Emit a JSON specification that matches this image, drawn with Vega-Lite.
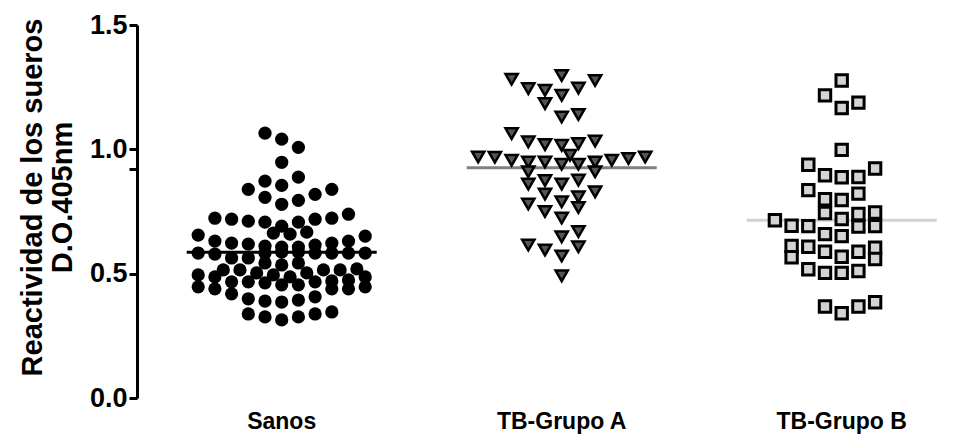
{
  "$schema": "https://vega.github.io/schema/vega-lite/v6.json",
  "width": 836,
  "height": 373,
  "autosize": {"type": "none"},
  "padding": {"left": 137, "top": 25, "right": 0, "bottom": 44},
  "background": "white",
  "config": {"view": {"stroke": null}},
  "datasets": {
    "puntos": [
      {"g": "Sanos", "c": -1, "v": 1.065}, {"g": "Sanos", "c": 0, "v": 1.041}, {"g": "Sanos", "c": 1, "v": 1.008},
      {"g": "Sanos", "c": 0, "v": 0.948}, {"g": "Sanos", "c": 1, "v": 0.888}, {"g": "Sanos", "c": -1, "v": 0.872},
      {"g": "Sanos", "c": 0, "v": 0.855}, {"g": "Sanos", "c": -2, "v": 0.839}, {"g": "Sanos", "c": 3, "v": 0.839},
      {"g": "Sanos", "c": 2, "v": 0.819}, {"g": "Sanos", "c": -1, "v": 0.807}, {"g": "Sanos", "c": 1, "v": 0.795},
      {"g": "Sanos", "c": 0, "v": 0.779},
      {"g": "Sanos", "c": -4, "v": 0.723}, {"g": "Sanos", "c": -3, "v": 0.719}, {"g": "Sanos", "c": -2, "v": 0.711},
      {"g": "Sanos", "c": -1, "v": 0.707}, {"g": "Sanos", "c": 0, "v": 0.691}, {"g": "Sanos", "c": 1, "v": 0.707},
      {"g": "Sanos", "c": 2, "v": 0.719}, {"g": "Sanos", "c": 3, "v": 0.723}, {"g": "Sanos", "c": 4, "v": 0.739},
      {"g": "Sanos", "c": -0.5, "v": 0.663}, {"g": "Sanos", "c": 0.5, "v": 0.659}, {"g": "Sanos", "c": 1.5, "v": 0.667},
      {"g": "Sanos", "c": -5, "v": 0.655}, {"g": "Sanos", "c": 5, "v": 0.651},
      {"g": "Sanos", "c": -4, "v": 0.631}, {"g": "Sanos", "c": -3, "v": 0.623}, {"g": "Sanos", "c": -2, "v": 0.619},
      {"g": "Sanos", "c": -1, "v": 0.611}, {"g": "Sanos", "c": 0, "v": 0.607}, {"g": "Sanos", "c": 1, "v": 0.607},
      {"g": "Sanos", "c": 2, "v": 0.615}, {"g": "Sanos", "c": 3, "v": 0.623}, {"g": "Sanos", "c": 4, "v": 0.631},
      {"g": "Sanos", "c": -5, "v": 0.583}, {"g": "Sanos", "c": -4, "v": 0.579}, {"g": "Sanos", "c": -1, "v": 0.583},
      {"g": "Sanos", "c": 0, "v": 0.587}, {"g": "Sanos", "c": 1, "v": 0.587}, {"g": "Sanos", "c": 2, "v": 0.583},
      {"g": "Sanos", "c": 3, "v": 0.583}, {"g": "Sanos", "c": 4, "v": 0.583}, {"g": "Sanos", "c": 5, "v": 0.583},
      {"g": "Sanos", "c": -3, "v": 0.563}, {"g": "Sanos", "c": -2, "v": 0.563},
      {"g": "Sanos", "c": -1, "v": 0.543}, {"g": "Sanos", "c": 0, "v": 0.535}, {"g": "Sanos", "c": 1, "v": 0.543},
      {"g": "Sanos", "c": -3.5, "v": 0.515}, {"g": "Sanos", "c": -2.5, "v": 0.515}, {"g": "Sanos", "c": 2.5, "v": 0.515},
      {"g": "Sanos", "c": 3.5, "v": 0.515}, {"g": "Sanos", "c": 4.5, "v": 0.519},
      {"g": "Sanos", "c": -1.5, "v": 0.503}, {"g": "Sanos", "c": -0.5, "v": 0.495}, {"g": "Sanos", "c": 0.5, "v": 0.487},
      {"g": "Sanos", "c": 1.5, "v": 0.503},
      {"g": "Sanos", "c": -5, "v": 0.495}, {"g": "Sanos", "c": -4, "v": 0.487}, {"g": "Sanos", "c": 5, "v": 0.487},
      {"g": "Sanos", "c": -3, "v": 0.467}, {"g": "Sanos", "c": -2, "v": 0.467}, {"g": "Sanos", "c": -1, "v": 0.463},
      {"g": "Sanos", "c": 0, "v": 0.455}, {"g": "Sanos", "c": 1, "v": 0.455}, {"g": "Sanos", "c": 2, "v": 0.467},
      {"g": "Sanos", "c": 3, "v": 0.471}, {"g": "Sanos", "c": 4, "v": 0.475},
      {"g": "Sanos", "c": -5, "v": 0.447}, {"g": "Sanos", "c": -4, "v": 0.439}, {"g": "Sanos", "c": 3, "v": 0.439},
      {"g": "Sanos", "c": 4, "v": 0.439}, {"g": "Sanos", "c": 5, "v": 0.447},
      {"g": "Sanos", "c": -3, "v": 0.419},
      {"g": "Sanos", "c": -2, "v": 0.399}, {"g": "Sanos", "c": -1, "v": 0.39}, {"g": "Sanos", "c": 0, "v": 0.386},
      {"g": "Sanos", "c": 1, "v": 0.394}, {"g": "Sanos", "c": 2, "v": 0.407},
      {"g": "Sanos", "c": -2, "v": 0.338}, {"g": "Sanos", "c": -1, "v": 0.326}, {"g": "Sanos", "c": 0, "v": 0.314},
      {"g": "Sanos", "c": 1, "v": 0.326}, {"g": "Sanos", "c": 2, "v": 0.338}, {"g": "Sanos", "c": 3, "v": 0.346},

      {"g": "TB-Grupo A", "c": -3, "v": 1.282}, {"g": "TB-Grupo A", "c": 0, "v": 1.297}, {"g": "TB-Grupo A", "c": 2, "v": 1.277},
      {"g": "TB-Grupo A", "c": -2, "v": 1.244}, {"g": "TB-Grupo A", "c": -1, "v": 1.237}, {"g": "TB-Grupo A", "c": 0, "v": 1.217},
      {"g": "TB-Grupo A", "c": 1, "v": 1.246}, {"g": "TB-Grupo A", "c": -1, "v": 1.184}, {"g": "TB-Grupo A", "c": 0, "v": 1.13},
      {"g": "TB-Grupo A", "c": 1, "v": 1.14}, {"g": "TB-Grupo A", "c": -3, "v": 1.063}, {"g": "TB-Grupo A", "c": -2, "v": 1.03},
      {"g": "TB-Grupo A", "c": -1, "v": 1.019}, {"g": "TB-Grupo A", "c": 0, "v": 1.016}, {"g": "TB-Grupo A", "c": 1, "v": 1.023},
      {"g": "TB-Grupo A", "c": 2, "v": 1.033},
      {"g": "TB-Grupo A", "c": -5, "v": 0.969}, {"g": "TB-Grupo A", "c": -4, "v": 0.968}, {"g": "TB-Grupo A", "c": -3, "v": 0.956},
      {"g": "TB-Grupo A", "c": -2, "v": 0.949}, {"g": "TB-Grupo A", "c": -1, "v": 0.949}, {"g": "TB-Grupo A", "c": 0.5, "v": 0.976},
      {"g": "TB-Grupo A", "c": 0, "v": 0.94}, {"g": "TB-Grupo A", "c": 1, "v": 0.94}, {"g": "TB-Grupo A", "c": 2, "v": 0.949},
      {"g": "TB-Grupo A", "c": 3, "v": 0.956}, {"g": "TB-Grupo A", "c": 4, "v": 0.963}, {"g": "TB-Grupo A", "c": 5, "v": 0.969},
      {"g": "TB-Grupo A", "c": -2, "v": 0.91}, {"g": "TB-Grupo A", "c": 2, "v": 0.91},
      {"g": "TB-Grupo A", "c": -1, "v": 0.874}, {"g": "TB-Grupo A", "c": 1, "v": 0.876},
      {"g": "TB-Grupo A", "c": -2, "v": 0.86}, {"g": "TB-Grupo A", "c": 0, "v": 0.86},
      {"g": "TB-Grupo A", "c": -1, "v": 0.82}, {"g": "TB-Grupo A", "c": 0, "v": 0.789}, {"g": "TB-Grupo A", "c": 1, "v": 0.809},
      {"g": "TB-Grupo A", "c": 2, "v": 0.829}, {"g": "TB-Grupo A", "c": -2, "v": 0.78}, {"g": "TB-Grupo A", "c": -1, "v": 0.75},
      {"g": "TB-Grupo A", "c": 1, "v": 0.766}, {"g": "TB-Grupo A", "c": 0, "v": 0.724},
      {"g": "TB-Grupo A", "c": 0, "v": 0.648}, {"g": "TB-Grupo A", "c": 1, "v": 0.669},
      {"g": "TB-Grupo A", "c": -2, "v": 0.615}, {"g": "TB-Grupo A", "c": -1, "v": 0.595}, {"g": "TB-Grupo A", "c": 0, "v": 0.571},
      {"g": "TB-Grupo A", "c": 1, "v": 0.608}, {"g": "TB-Grupo A", "c": 0, "v": 0.491},

      {"g": "TB-Grupo B", "c": 0, "v": 1.277}, {"g": "TB-Grupo B", "c": -1, "v": 1.217}, {"g": "TB-Grupo B", "c": 1, "v": 1.188},
      {"g": "TB-Grupo B", "c": 0, "v": 1.166}, {"g": "TB-Grupo B", "c": 0, "v": 0.998}, {"g": "TB-Grupo B", "c": -2, "v": 0.938},
      {"g": "TB-Grupo B", "c": 2, "v": 0.923}, {"g": "TB-Grupo B", "c": -1, "v": 0.896}, {"g": "TB-Grupo B", "c": 0, "v": 0.888},
      {"g": "TB-Grupo B", "c": 1, "v": 0.889}, {"g": "TB-Grupo B", "c": -2, "v": 0.836}, {"g": "TB-Grupo B", "c": 1, "v": 0.822},
      {"g": "TB-Grupo B", "c": -1, "v": 0.799}, {"g": "TB-Grupo B", "c": 0, "v": 0.796}, {"g": "TB-Grupo B", "c": -1, "v": 0.744},
      {"g": "TB-Grupo B", "c": 1, "v": 0.74}, {"g": "TB-Grupo B", "c": 2, "v": 0.746}, {"g": "TB-Grupo B", "c": 0, "v": 0.72},
      {"g": "TB-Grupo B", "c": -4, "v": 0.715}, {"g": "TB-Grupo B", "c": -3, "v": 0.693}, {"g": "TB-Grupo B", "c": -2, "v": 0.691},
      {"g": "TB-Grupo B", "c": 1, "v": 0.689}, {"g": "TB-Grupo B", "c": 2, "v": 0.691}, {"g": "TB-Grupo B", "c": -1, "v": 0.659},
      {"g": "TB-Grupo B", "c": 0, "v": 0.651}, {"g": "TB-Grupo B", "c": -3, "v": 0.611}, {"g": "TB-Grupo B", "c": -2, "v": 0.608},
      {"g": "TB-Grupo B", "c": 2, "v": 0.604}, {"g": "TB-Grupo B", "c": -1, "v": 0.588}, {"g": "TB-Grupo B", "c": 1, "v": 0.588},
      {"g": "TB-Grupo B", "c": -3, "v": 0.566}, {"g": "TB-Grupo B", "c": 0, "v": 0.568}, {"g": "TB-Grupo B", "c": 2, "v": 0.559},
      {"g": "TB-Grupo B", "c": -2, "v": 0.518}, {"g": "TB-Grupo B", "c": -1, "v": 0.503}, {"g": "TB-Grupo B", "c": 0, "v": 0.503},
      {"g": "TB-Grupo B", "c": 1, "v": 0.511}, {"g": "TB-Grupo B", "c": -1, "v": 0.368}, {"g": "TB-Grupo B", "c": 0, "v": 0.341},
      {"g": "TB-Grupo B", "c": 1, "v": 0.368}, {"g": "TB-Grupo B", "c": 2, "v": 0.385}
    ],
    "medias": [
      {"g": "Sanos", "v": 0.586},
      {"g": "TB-Grupo A", "v": 0.926},
      {"g": "TB-Grupo B", "v": 0.715}
    ]
  },
  "layer": [
    {
      "data": {"values": [{"corte": 0.92}]},
      "mark": {"type": "rule", "color": "black", "strokeWidth": 1.5, "strokeDash": [3, 2]},
      "encoding": {"y": {"field": "corte", "type": "quantitative"}}
    },
    {
      "data": {"values": [{"cero": 0}]},
      "mark": {"type": "rule", "color": "black", "strokeWidth": 3},
      "encoding": {"y": {"field": "cero", "type": "quantitative"}}
    },
    {
      "data": {"name": "medias"},
      "mark": {"type": "tick", "size": 190, "thickness": 3, "opacity": 1},
      "encoding": {
        "x": {"field": "g", "type": "nominal"},
        "y": {"field": "v", "type": "quantitative"},
        "color": {"field": "g", "type": "nominal", "legend": null,
          "scale": {"domain": ["Sanos", "TB-Grupo A", "TB-Grupo B"], "range": ["#000000", "#808080", "#d3d3d3"]}}
      }
    },
    {
      "data": {"name": "puntos"},
      "transform": [{"filter": "datum.g == 'Sanos'"}],
      "mark": {"type": "point", "shape": "circle", "filled": true, "color": "black", "size": 175, "opacity": 1},
      "encoding": {
        "x": {"field": "g", "type": "nominal"},
        "xOffset": {"field": "c", "type": "quantitative", "scale": {"domain": [-8.383, 8.383], "range": [0, 280]}},
        "y": {"field": "v", "type": "quantitative"}
      }
    },
    {
      "data": {"name": "puntos"},
      "transform": [{"filter": "datum.g == 'TB-Grupo A'"}],
      "mark": {"type": "point", "shape": "triangle-down", "filled": true, "fill": "#555555", "stroke": "#000000", "strokeWidth": 2.5, "size": 150, "opacity": 1, "fillOpacity": 1, "strokeOpacity": 1},
      "encoding": {
        "x": {"field": "g", "type": "nominal"},
        "xOffset": {"field": "c", "type": "quantitative", "scale": {"domain": [-8.383, 8.383], "range": [0, 280]}},
        "y": {"field": "v", "type": "quantitative"}
      }
    },
    {
      "data": {"name": "puntos"},
      "transform": [{"filter": "datum.g == 'TB-Grupo B'"}],
      "mark": {"type": "point", "shape": "square", "filled": true, "fill": "#d4d4d4", "stroke": "#000000", "strokeWidth": 3, "size": 130, "opacity": 1, "fillOpacity": 1, "strokeOpacity": 1},
      "encoding": {
        "x": {"field": "g", "type": "nominal"},
        "xOffset": {"field": "c", "type": "quantitative", "scale": {"domain": [-8.383, 8.383], "range": [0, 280]}},
        "y": {"field": "v", "type": "quantitative"}
      }
    }
  ],
  "resolve": {"scale": {"color": "independent"}},
  "encoding": {
    "x": {"field": "g", "type": "nominal",
      "scale": {"domain": ["Sanos", "TB-Grupo A", "TB-Grupo B"], "range": [4.7, 844.7], "paddingInner": 0, "paddingOuter": 0},
      "axis": {"title": null, "ticks": false, "domain": false, "labelAngle": 0, "labelFont": "Liberation Sans", "labelFontWeight": "bold",
        "labelFontSize": 23, "labelColor": "black", "labelPadding": 12}
    },
    "y": {"field": "v", "type": "quantitative",
      "scale": {"domain": [0, 1.5], "nice": false, "zero": true},
      "axis": {"values": [0, 0.5, 0.92, 1, 1.5], "labelExpr": "datum.value == 0.92 ? '' : format(datum.value, '.1f')",
        "grid": false, "title": ["Reactividad de los sueros", "D.O.405nm"],
        "titleFont": "Liberation Sans", "titleFontWeight": "bold", "titleFontSize": 29, "titleColor": "black", "titleLineHeight": 30,
        "titlePadding": 12, "titleY": 172,
        "labelFont": "Liberation Sans", "labelFontWeight": "bold", "labelFontSize": 27, "labelColor": "black", "labelPadding": 2,
        "tickColor": "black", "tickWidth": 3, "tickSize": 8, "domainColor": "black", "domainWidth": 3}
    }
  }
}
